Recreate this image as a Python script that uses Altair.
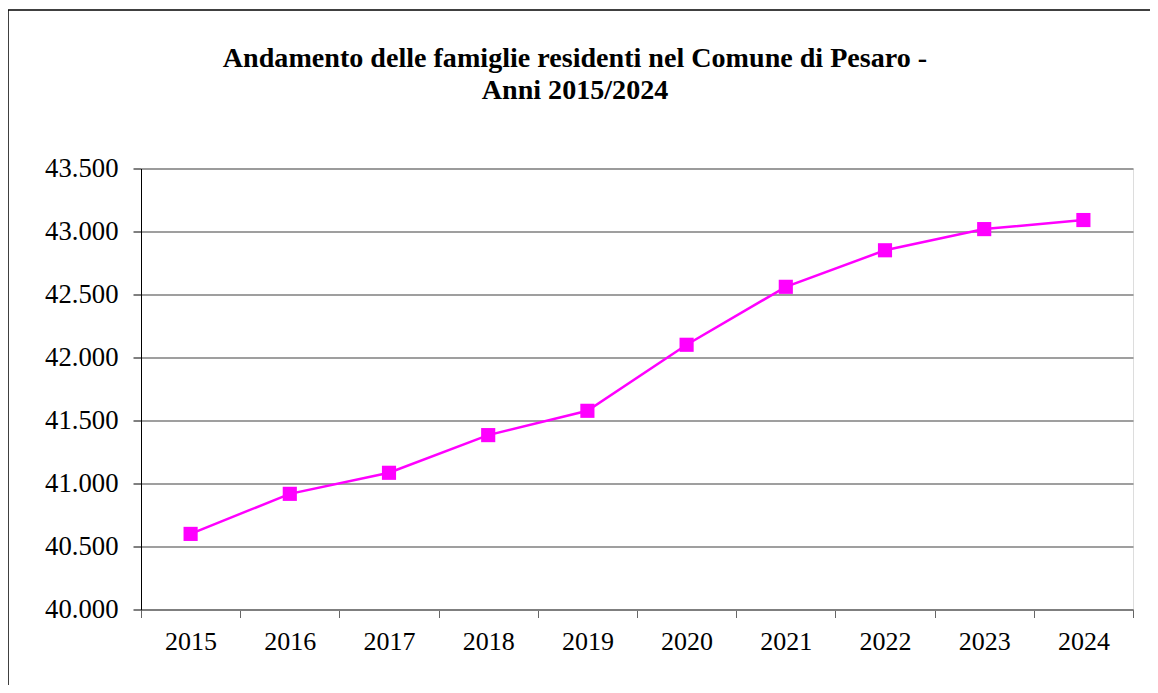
import altair as alt
import pandas as pd

years = ["2015", "2016", "2017", "2018", "2019", "2020", "2021", "2022", "2023", "2024"]
famiglie = [40600, 40918, 41085, 41384, 41577, 42101, 42561, 42851, 43019, 43091]
y_ticks = [40000, 40500, 41000, 41500, 42000, 42500, 43000, 43500]
title_lines = ["Andamento delle famiglie residenti nel Comune di Pesaro -", "Anni 2015/2024"]

df = pd.DataFrame({"anno": years, "famiglie": famiglie})

W, H = 992, 441
FONT = "Liberation Serif"
MAG = "#FF00FF"

x_enc = alt.X(
    "anno:O",
    sort=years,
    scale=alt.Scale(type="band", paddingInner=0, paddingOuter=0),
    axis=alt.Axis(
        title=None, labelAngle=0, tickBand="extent", labelFont=FONT, labelFontSize=26,
        labelColor="black", labelPadding=11, tickSize=8, tickColor="#666666",
        domainColor="#7f7f7f", domainWidth=2, grid=False, labelBaseline="top",
    ),
)
y_enc = alt.Y(
    "famiglie:Q",
    scale=alt.Scale(domain=[40000, 43500], nice=False, zero=False),
    axis=alt.Axis(
        title=None, values=y_ticks, labelFont=FONT, labelFontSize=26.7, labelColor="black",
        labelExpr="replace(format(datum.value, ',.0f'), ',', '.')",
        tickSize=8, tickColor="black", domainColor="black", domainWidth=1,
        labelPadding=15, gridColor="#7f7f7f", gridWidth=1.5,
    ),
)

base = alt.Chart(df)
line = base.mark_line(color=MAG, strokeWidth=2.5).encode(x=x_enc, y=y_enc)
pts = base.mark_point(shape="square", filled=True, size=200, color=MAG, opacity=1).encode(x=x_enc, y=y_enc)

one = pd.DataFrame({"k": [0]})
frame_left = alt.Chart(one).mark_rule(color="black", strokeWidth=1.5, clip=False).encode(
    x=alt.value(-133), y=alt.value(-158.5), y2=alt.value(H + 120)
)
frame_top = alt.Chart(one).mark_rule(color="black", strokeWidth=1.5, clip=False).encode(
    x=alt.value(-133), x2=alt.value(W + 40), y=alt.value(-158.5)
)
t1 = alt.Chart(one).mark_text(
    text=title_lines[0], font=FONT, fontSize=28.1, fontWeight="bold", color="black",
    align="center", baseline="alphabetic", clip=False,
).encode(x=alt.value(434), y=alt.value(-101.5))
t2 = alt.Chart(one).mark_text(
    text=title_lines[1], font=FONT, fontSize=28.1, fontWeight="bold", color="black",
    align="center", baseline="alphabetic", clip=False,
).encode(x=alt.value(434), y=alt.value(-69.2))

chart = alt.layer(frame_left, frame_top, t1, t2, line, pts).properties(
    width=W,
    height=H,
    autosize=alt.AutoSizeParams(type="none"),
    padding={"left": 133, "top": 160.5, "right": 17, "bottom": 75},
).configure_view(stroke="#7f7f7f", strokeWidth=2).configure(background="white")

chart.save("out.html", embed_options={"renderer": "svg", "actions": False})
